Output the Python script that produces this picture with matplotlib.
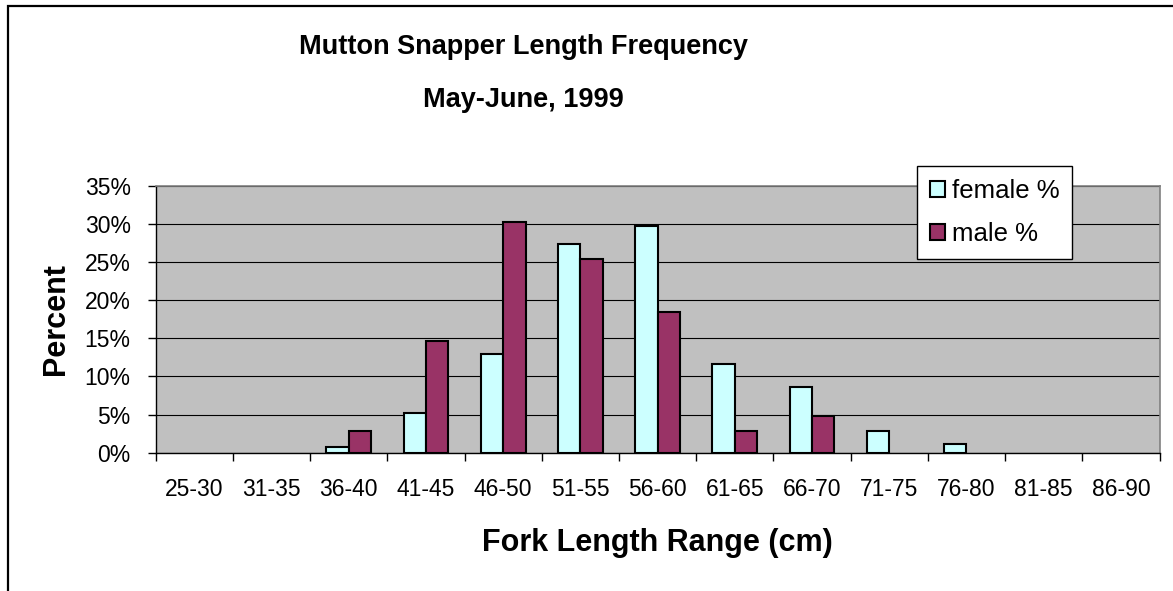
import matplotlib.pyplot as plt
import numpy as np
from matplotlib.patches import Rectangle, Patch
from matplotlib.ticker import FuncFormatter

plt.rcParams['font.family'] = ['Liberation Sans', 'DejaVu Sans']

# fork length classes (cm) and percent of fish in each class
ranges = ["25-30", "31-35", "36-40", "41-45", "46-50", "51-55", "56-60",
          "61-65", "66-70", "71-75", "76-80", "81-85", "86-90"]
female_pct = [0.0, 0.0, 0.7, 5.2, 13.0, 27.4, 29.7, 11.6, 8.6, 2.8, 1.1, 0.0, 0.0]
male_pct = [0.0, 0.0, 2.9, 14.7, 30.3, 25.4, 18.5, 2.9, 4.8, 0.0, 0.0, 0.0, 0.0]

female_color = "#CCFFFF"
male_color = "#993366"

fig = plt.figure(figsize=(11.73, 5.91), dpi=100)
ax = fig.add_axes([0.1327, 0.234, 0.8558, 0.4518])

# outer chart frame (left and top edges visible)
fig.patches.append(Rectangle((7.5 / 1173, -0.1), 1.2, 1 - 5.5 / 591 + 0.1,
                             transform=fig.transFigure, fill=False,
                             edgecolor="black", linewidth=1.6, zorder=0))

x = np.arange(len(ranges))
w = 0.29
fbars = ax.bar(x - w / 2, female_pct, width=w, color=female_color, edgecolor="black",
               linewidth=1.5, zorder=3)
mbars = ax.bar(x + w / 2, male_pct, width=w, color=male_color, edgecolor="black",
               linewidth=1.5, zorder=3)
# empty classes get no outline
for b in list(fbars) + list(mbars):
    if b.get_height() == 0:
        b.set_visible(False)

ax.set_facecolor("#C0C0C0")
ax.set_xlim(-0.5, len(ranges) - 0.5)
ax.set_ylim(0, 35)
ax.set_yticks(np.arange(0, 36, 5))
ax.yaxis.set_major_formatter(FuncFormatter(lambda v, p: f"{v:.0f}%"))
ax.yaxis.grid(True, color="black", linewidth=0.8, zorder=1)
ax.set_axisbelow(True)

ax.set_xticks(x)
ax.set_xticklabels(ranges)
ax.set_xticks(np.arange(-0.5, len(ranges)), minor=True)
ax.tick_params(axis="x", which="major", length=0, pad=18, labelsize=16.5)
ax.tick_params(axis="x", which="minor", length=6, width=1, direction="out")
ax.tick_params(axis="y", length=6, width=1, direction="out", pad=12, labelsize=16.5)

for side in ["top", "right"]:
    ax.spines[side].set_color("#808080")
    ax.spines[side].set_linewidth(1.2)
for side in ["left", "bottom"]:
    ax.spines[side].set_color("black")
    ax.spines[side].set_linewidth(1.0)

ax.set_xlabel("Fork Length Range (cm)", fontsize=22, fontweight="bold", labelpad=20)
ax.set_ylabel("Percent", fontsize=22, fontweight="bold", labelpad=10)

fig.text(0.446, 0.92, "Mutton Snapper Length Frequency", ha="center", va="center",
         fontsize=19.5, fontweight="bold")
fig.text(0.446, 0.831, "May-June, 1999", ha="center", va="center",
         fontsize=19.5, fontweight="bold")

handles = [Patch(facecolor=female_color, edgecolor="black", linewidth=1.5),
           Patch(facecolor=male_color, edgecolor="black", linewidth=1.5)]
leg = ax.legend(handles, ["female %", "male %"], loc="upper left",
                bbox_to_anchor=(917 / 1173, 1 - 166 / 591),
                bbox_transform=fig.transFigure, fontsize=18.5, frameon=True,
                fancybox=False, shadow=False, borderpad=0.5, labelspacing=0.75,
                handlelength=0.6, handleheight=0.6, handletextpad=0.25,
                borderaxespad=0)
leg.get_frame().set_edgecolor("black")
leg.get_frame().set_linewidth(1.0)
leg.get_frame().set_alpha(1)

fig.savefig("out.png", dpi=100)
